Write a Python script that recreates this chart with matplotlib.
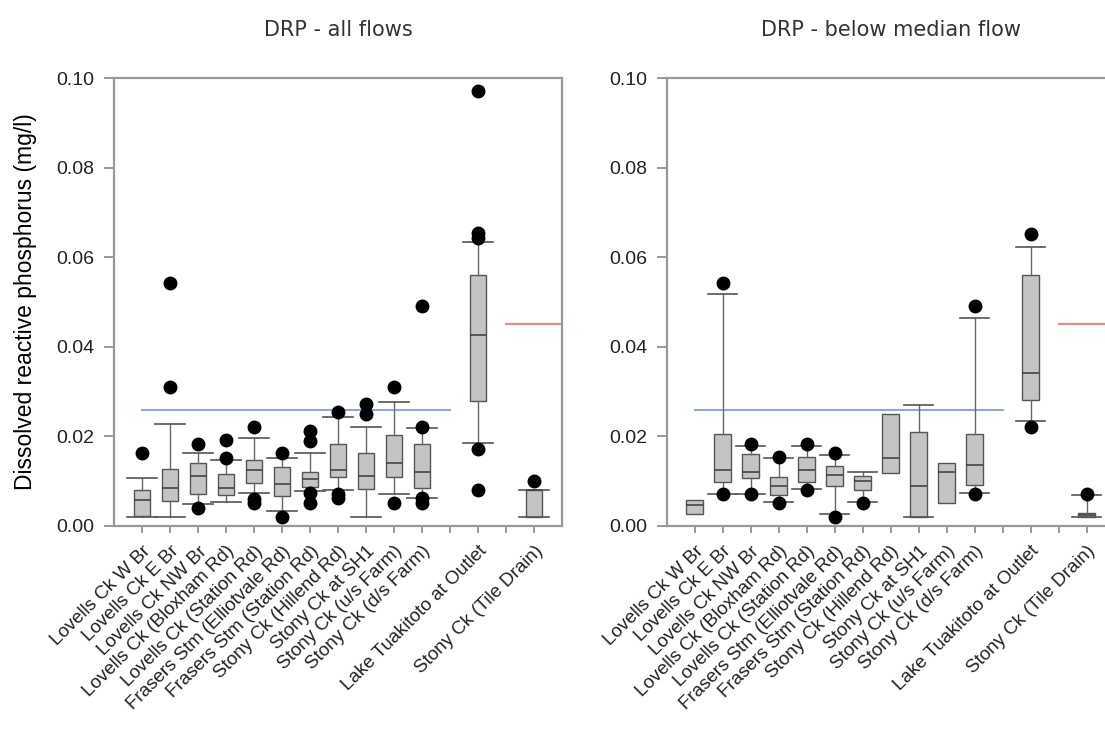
import matplotlib
matplotlib.use("Agg")
import matplotlib.pyplot as plt
import matplotlib.transforms as mtrans
import numpy as np

plt.rcParams['font.family'] = ['Liberation Sans', 'DejaVu Sans']

# Site names and their slot on the x axis
sites = ["Lovells Ck W Br", "Lovells Ck E Br", "Lovells Ck NW Br",
         "Lovells Ck (Bloxham Rd)", "Lovells Ck (Station Rd)",
         "Frasers Stm (Elliotvale Rd)", "Frasers Stm (Station Rd)",
         "Stony Ck (Hillend Rd)", "Stony Ck at SH1", "Stony Ck (u/s Farm)",
         "Stony Ck (d/s Farm)", "Lake Tuakitoto at Outlet",
         "Stony Ck (Tile Drain)"]
slots = [1, 2, 3, 4, 5, 6, 7, 8, 9, 10, 11, 13, 15]

# DRP - all flows
all_whislo = [0.0021, 0.0021, 0.0048, 0.0053, 0.0073, 0.0034, 0.0078, 0.0080, 0.0021, 0.0071, 0.0063, 0.0186, 0.0021]
all_q1 = [0.0022, 0.0056, 0.0071, 0.0069, 0.0095, 0.0067, 0.0086, 0.0110, 0.0082, 0.0110, 0.0084, 0.0280, 0.0021]
all_med = [0.0058, 0.0084, 0.0112, 0.0084, 0.0124, 0.0093, 0.0105, 0.0126, 0.0112, 0.0141, 0.0121, 0.0426, 0.0080]
all_q3 = [0.0080, 0.0127, 0.0140, 0.0115, 0.0147, 0.0131, 0.0120, 0.0183, 0.0162, 0.0203, 0.0182, 0.0560, 0.0080]
all_whishi = [0.0108, 0.0227, 0.0162, 0.0147, 0.0197, 0.0151, 0.0162, 0.0244, 0.0222, 0.0276, 0.0219, 0.0635, 0.0080]
all_fliers = [[0.0162], [0.0542, 0.0311], [0.0182, 0.0041], [0.0192, 0.0151],
              [0.0222, 0.0060, 0.0051], [0.0162, 0.0021],
              [0.0213, 0.0190, 0.0073, 0.0052], [0.0254, 0.0071, 0.0062],
              [0.0272, 0.0250], [0.0311, 0.0052],
              [0.0491, 0.0222, 0.0063, 0.0051],
              [0.0970, 0.0653, 0.0642, 0.0171, 0.0080], [0.0101]]
all_whiskers = [True] * 13

# DRP - below median flow
low_whislo = [0.0027, 0.0071, 0.0071, 0.0053, 0.0082, 0.0027, 0.0053, 0.0119, 0.0021, 0.0051, 0.0073, 0.0234, 0.0021]
low_q1 = [0.0027, 0.0099, 0.0106, 0.0069, 0.0099, 0.0090, 0.0080, 0.0119, 0.0021, 0.0051, 0.0092, 0.0281, 0.0021]
low_med = [0.0047, 0.0125, 0.0121, 0.0089, 0.0125, 0.0114, 0.0101, 0.0151, 0.0090, 0.0121, 0.0136, 0.0341, 0.0024]
low_q3 = [0.0057, 0.0205, 0.0160, 0.0110, 0.0153, 0.0134, 0.0112, 0.0250, 0.0209, 0.0140, 0.0205, 0.0560, 0.0028]
low_whishi = [0.0057, 0.0518, 0.0179, 0.0151, 0.0179, 0.0158, 0.0120, 0.0250, 0.0270, 0.0140, 0.0464, 0.0622, 0.0069]
low_fliers = [[], [0.0542, 0.0071], [0.0182, 0.0071], [0.0153, 0.0051],
              [0.0182, 0.0080], [0.0164, 0.0021], [0.0051], [], [], [],
              [0.0491, 0.0071], [0.0651, 0.0222], [0.0071]]
low_whiskers = [False, True, True, True, True, True, True, False, True, False, True, True, True]

# guideline levels (mg/l)
stream_guide = 0.026
lake_guide = 0.045


def draw_panel(ax, title, whislo, q1, med, q3, whishi, fliers, whiskers):
    stats = []
    for i in range(len(sites)):
        stats.append(dict(whislo=whislo[i], q1=q1[i], med=med[i], q3=q3[i],
                          whishi=whishi[i], fliers=fliers[i], label=sites[i]))
    art = ax.bxp(stats, positions=slots, widths=0.6, capwidths=1.05,
                 patch_artist=True, showfliers=True,
                 boxprops=dict(facecolor="#c4c4c4", edgecolor="#555555", linewidth=1.0),
                 medianprops=dict(color="#444444", linewidth=1.2),
                 whiskerprops=dict(color="#666666", linewidth=1.0),
                 capprops=dict(color="#555555", linewidth=1.2),
                 flierprops=dict(marker="o", markerfacecolor="black",
                                 markeredgecolor="black", markersize=9))
    # boxes with too few points have no whiskers
    for i, has in enumerate(whiskers):
        if not has:
            for a in art["caps"][2 * i:2 * i + 2] + art["whiskers"][2 * i:2 * i + 2]:
                a.set_visible(False)

    ax.plot([1, 12], [stream_guide, stream_guide], color="#8aa4e6", lw=1.4, zorder=1)
    ax.plot([14, 16], [lake_guide, lake_guide], color="#ec8a8a", lw=1.6, zorder=1)

    ax.set_xlim(0, 16)
    ax.set_ylim(0, 0.1)
    ax.set_yticks(np.arange(0, 0.101, 0.02))
    ax.set_yticklabels(["%.2f" % v for v in np.arange(0, 0.101, 0.02)],
                       fontsize=14, color="#222222")
    ticks = list(range(1, 16))
    labels = []
    for t in ticks:
        labels.append(sites[slots.index(t)] if t in slots else "")
    ax.set_xticks(ticks)
    ax.set_xticklabels(labels, rotation=45, ha="right", rotation_mode="anchor",
                       fontsize=13.5, color="#222222")
    # nudge the slanted labels down-left a little, as in the original
    shift = mtrans.ScaledTranslation(-0.07, -0.04, ax.figure.dpi_scale_trans)
    for lab in ax.get_xticklabels():
        lab.set_transform(lab.get_transform() + shift)
    ax.tick_params(axis="y", direction="out", length=7, width=1.2, color="#888888", pad=7)
    ax.tick_params(axis="x", direction="out", length=5, width=1.2, color="#888888", pad=7)
    for s in ax.spines.values():
        s.set_color("#999999")
        s.set_linewidth(1.6)
    ax.set_title(title, fontsize=15, pad=30, color="#333333",
                 family=["Liberation Sans Narrow", "DejaVu Sans"])


fig = plt.figure(figsize=(11.05, 7.29), dpi=100)
ax1 = fig.add_axes([0.1032, 0.2785, 0.4054, 0.6145])
ax2 = fig.add_axes([0.6033, 0.2785, 0.4054, 0.6145])

draw_panel(ax1, "DRP - all flows", all_whislo, all_q1, all_med, all_q3,
           all_whishi, all_fliers, all_whiskers)
draw_panel(ax2, "DRP - below median flow", low_whislo, low_q1, low_med, low_q3,
           low_whishi, low_fliers, low_whiskers)
ax1.set_ylabel("Dissolved reactive phosphorus (mg/l)", fontsize=16.5, labelpad=14)

fig.savefig("out.png", dpi=100)
